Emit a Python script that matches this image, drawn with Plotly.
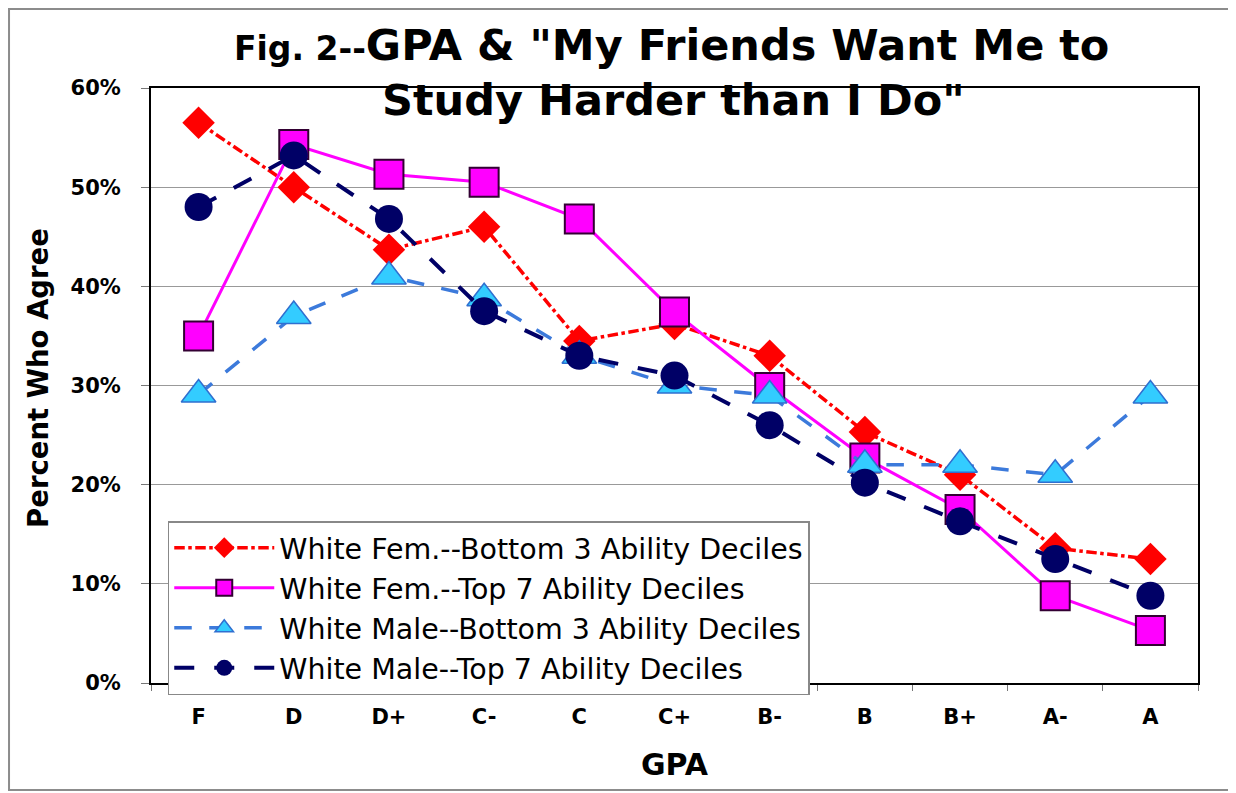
import plotly.graph_objects as go

grades = ["F", "D", "D+", "C-", "C", "C+", "B-", "B", "B+", "A-", "A"]
fem_bottom3 = [56.5, 50.0, 43.7, 46.0, 34.5, 36.2, 33.0, 25.3, 21.0, 13.6, 12.5]
fem_top7 = [35.0, 54.3, 51.3, 50.5, 46.8, 37.4, 29.8, 22.7, 17.5, 8.8, 5.3]
male_bottom3 = [29.1, 37.0, 41.0, 38.8, 33.0, 30.0, 29.0, 22.0, 22.0, 21.0, 29.0]
male_top7 = [48.0, 53.2, 46.8, 37.5, 33.0, 31.0, 26.0, 20.2, 16.3, 12.5, 8.8]
names = [
    "White Fem.--Bottom 3 Ability Deciles",
    "White Fem.--Top 7 Ability Deciles",
    "White Male--Bottom 3 Ability Deciles",
    "White Male--Top 7 Ability Deciles",
]
y_ticks = [0, 10, 20, 30, 40, 50, 60]

FONT = "DejaVu Sans, Liberation Sans, Arial, sans-serif"

fig = go.Figure()
fig.add_trace(go.Scatter(
    x=grades, y=fem_bottom3, name=names[0], mode="lines+markers",
    line=dict(color="#FF0000", width=3.5, dash="dashdot"),
    marker=dict(symbol="diamond", size=25, color="#FF0000", line=dict(color="#FF0000", width=0)),
))
fig.add_trace(go.Scatter(
    x=grades, y=fem_top7, name=names[1], mode="lines+markers",
    line=dict(color="#FF00FF", width=3),
    marker=dict(symbol="square", size=29, color="#FF00FF", line=dict(color="#330033", width=2)),
))
fig.add_trace(go.Scatter(
    x=grades, y=male_bottom3, name=names[2], mode="lines+markers",
    line=dict(color="#3C7ADB", width=3.5, dash="longdash"),
    marker=dict(symbol="triangle-up", size=30, color="#33CCFF", line=dict(color="#2F6FD0", width=1.5)),
))
fig.add_trace(go.Scatter(
    x=grades, y=male_top7, name=names[3], mode="lines+markers",
    line=dict(color="#000066", width=4, dash="longdash"),
    marker=dict(symbol="circle", size=28, color="#000066", line=dict(color="#000066", width=0)),
))

fig.update_layout(
    width=1228, height=785,
    margin=dict(l=143, r=38, t=80, b=110, autoexpand=False),
    paper_bgcolor="white", plot_bgcolor="white",
    font=dict(family=FONT, color="black"),
    showlegend=True,
    legend=dict(
        x=0.016, y=0.272, xanchor="left", yanchor="top",
        bgcolor="white", bordercolor="#888888", borderwidth=1.5,
        font=dict(size=28.5, family=FONT, color="black"),
        itemwidth=100, tracegroupgap=0,
    ),
    xaxis=dict(
        type="category", categoryorder="array", categoryarray=grades,
        range=[-0.5, 10.5], automargin=False,
        showgrid=False, showline=True, linecolor="black", linewidth=2, mirror=True,
        ticks="outside", tickson="boundaries", ticklen=6, tickcolor="#777777",
        ticklabelstandoff=14,
        tickfont=dict(size=21, family=FONT, color="black", weight="bold"),
    ),
    yaxis=dict(
        range=[0, 60], tickvals=y_ticks, ticktext=[f"{v}%" for v in y_ticks],
        automargin=False,
        showgrid=True, gridcolor="#999999", gridwidth=1,
        showline=True, linecolor="black", linewidth=2, mirror=True,
        ticks="outside", ticklen=8, tickcolor="#777777",
        ticklabelstandoff=16,
        tickfont=dict(size=21, family=FONT, color="black", weight="bold"),
        zeroline=False,
    ),
)

# Title (two lines)
fig.add_annotation(
    xref="paper", yref="paper", x=0.4967, y=1.0723, xanchor="center", yanchor="middle",
    text="<b><span style='font-size:33px'>Fig. 2--</span>GPA &amp; \"My Friends Want Me to</b>",
    showarrow=False, font=dict(size=43, family=FONT, color="black"),
)
fig.add_annotation(
    xref="paper", yref="paper", x=0.4986, y=0.9798, xanchor="center", yanchor="middle",
    text="<b>Study Harder than I Do\"</b>",
    showarrow=False, font=dict(size=43, family=FONT, color="black"),
)
# Axis titles
fig.add_annotation(
    xref="paper", yref="paper", x=0.5005, y=-0.1378, xanchor="center", yanchor="middle",
    text="<b>GPA</b>", showarrow=False, font=dict(size=30, family=FONT, color="black"),
)
fig.add_annotation(
    xref="paper", yref="paper", x=-0.108, y=0.5126, xanchor="center", yanchor="middle",
    text="<b>Percent Who Agree</b>", textangle=-90, showarrow=False,
    font=dict(size=27.5, family=FONT, color="black"),
)

# Outer chart frame
fig.add_shape(
    type="rect", xref="paper", yref="paper",
    x0=-0.1356, x1=1.0306, y0=-0.1798, y1=1.1328,
    line=dict(color="#8C8C8C", width=2), fillcolor="rgba(0,0,0,0)", layer="above",
)

fig.write_html("out.html")
